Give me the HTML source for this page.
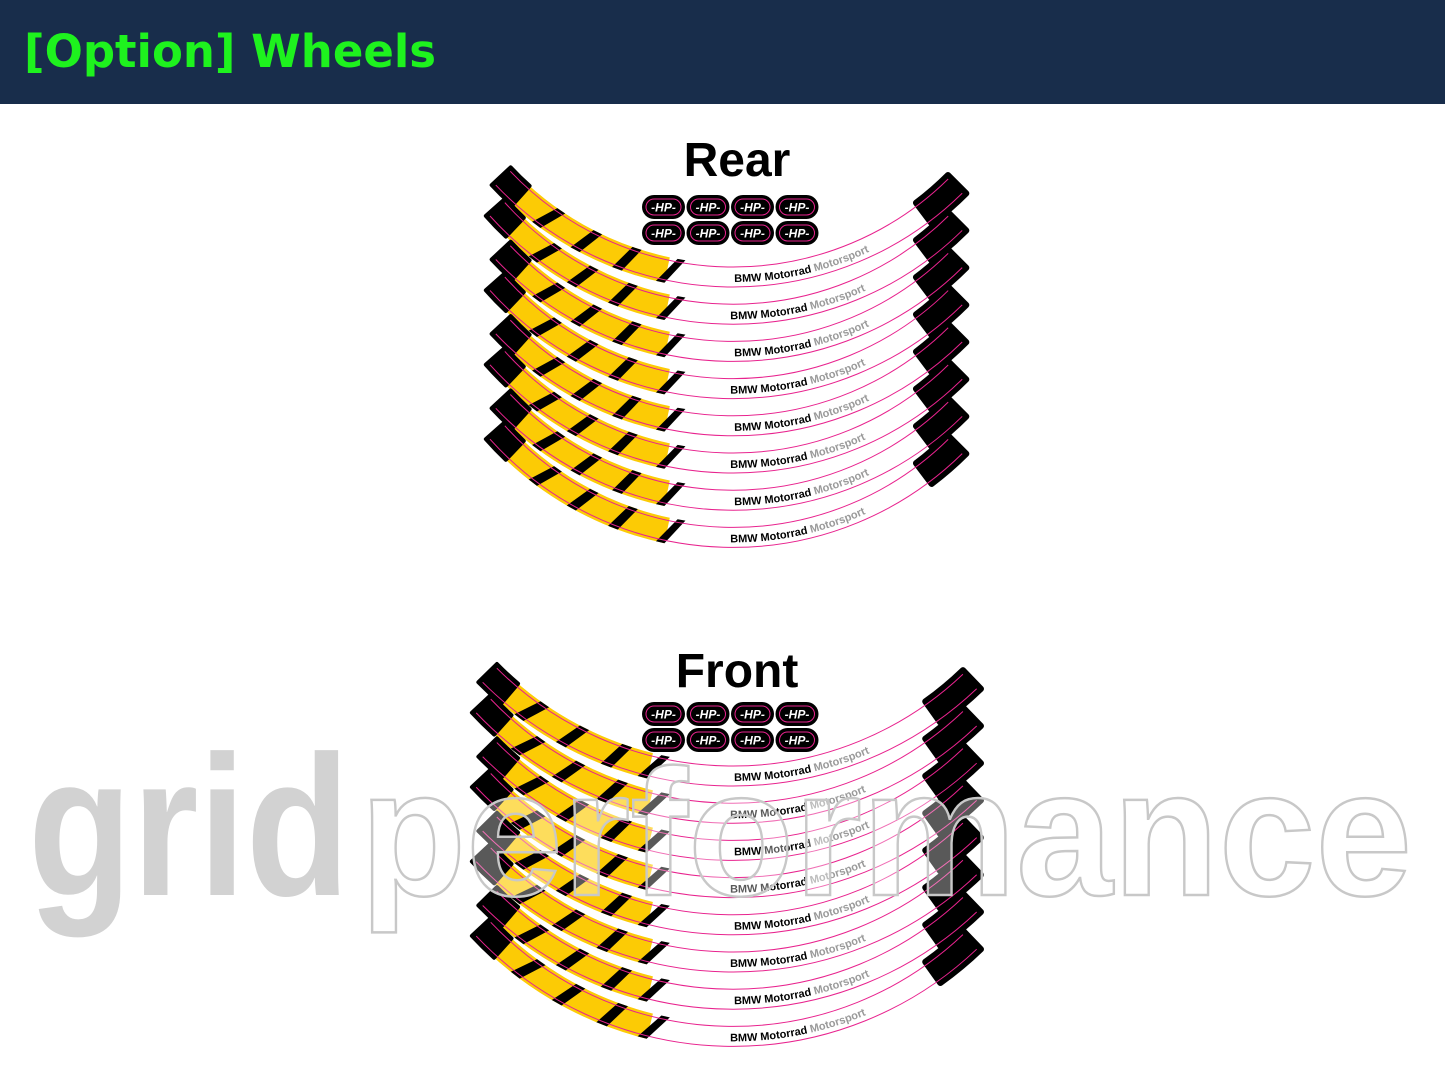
<!DOCTYPE html>
<html><head><meta charset="utf-8"><style>
html,body{margin:0;padding:0;background:#fff;width:1445px;height:1090px;overflow:hidden}
#hdr{position:absolute;left:0;top:0;width:1445px;height:104px;background:#182d4b}
#hdr span{position:absolute;left:24px;top:25px;font:bold 45px "DejaVu Sans","Liberation Sans",sans-serif;color:#1ef21e;letter-spacing:0px}
svg{position:absolute;left:0;top:0}
</style></head><body>
<div id="hdr"><span>[Option] Wheels</span></div>
<svg id="s" width="1445" height="1090" xmlns="http://www.w3.org/2000/svg">
<text x="737" y="176" text-anchor="middle" font-family="Liberation Sans,sans-serif" font-weight="bold" font-size="48">Rear</text>
<text x="737" y="687" text-anchor="middle" font-family="Liberation Sans,sans-serif" font-weight="bold" font-size="48">Front</text>
<g id="g"></g>
<text x="28" y="895" font-family="Liberation Sans,sans-serif" font-weight="bold" font-size="200" fill="#d2d2d2" textLength="322" lengthAdjust="spacingAndGlyphs">grid</text>
<text x="360" y="895" font-family="Liberation Sans,sans-serif" font-weight="bold" font-size="180" fill="rgba(255,255,255,0.35)" stroke="#c8c8c8" stroke-width="2.5" textLength="1052" lengthAdjust="spacingAndGlyphs">performance</text>
</svg>
<script>
var g=document.getElementById('g'),h='';
function P(cx,cy,r,t){return [cx+r*Math.sin(t),cy+r*Math.cos(t)];}
function arcBand(cx,cy,r1,r2,a,b){var p1=P(cx,cy,r2,a),p2=P(cx,cy,r2,b),p3=P(cx,cy,r1,b),p4=P(cx,cy,r1,a);
return 'M'+p1+' A'+r2+' '+r2+' 0 0 0 '+p2+' L'+p3+' A'+r1+' '+r1+' 0 0 1 '+p4+' Z';}
function arc(cx,cy,r,a,b){var p1=P(cx,cy,r,a),p2=P(cx,cy,r,b);return 'M'+p1+' A'+r+' '+r+' 0 0 0 '+p2;}
var D=Math.PI/180,id=0;
function wheel(cx,cy,R,a0,ay,ar0,a1){
 for(var i=0;i<8;i++){
  var c=cy+37.2*i,ri=R-26,ro=R;
  var l=a0-(i%2?1.5*D:0);
  h+='<path d="'+arcBand(cx,c,ri,ro,l,a1)+'" fill="#fff"/>';
  h+='<path d="'+arcBand(cx,c,ri,ro,l,ay)+'" fill="#fccb05"/>';
  h+='<path d="'+arcBand(cx,c,ri,ro,l,l+5*D)+'" fill="#000" stroke="#000" stroke-width="4" stroke-linejoin="round"/>';
  var st=[(l+ay)/2-8*D,(l+ay)/2,(l+ay)/2+8*D];
  for(var k=0;k<3;k++){var t=st[k];var q1=P(cx,c,ro,t),q2=P(cx,c,ro,t+1.8*D),q3=P(cx,c,ri,t+4*D),q4=P(cx,c,ri,t+2.2*D);
   h+='<path d="M'+q1+' L'+q2+' L'+q3+' L'+q4+'Z" fill="#000"/>';}
  h+='<path d="M'+P(cx,c,ro,ay-1.5*D)+' L'+P(cx,c,ro,ay)+' L'+P(cx,c,ri,ay+3*D)+' L'+P(cx,c,ri,ay+1.5*D)+'Z" fill="#000"/>';
  h+='<path d="'+arcBand(cx,c,ri,ro,ar0,a1)+'" fill="#000" stroke="#000" stroke-width="6" stroke-linejoin="round"/>';
  h+='<path d="'+arc(cx,c,ro-3,l+0.5*D,a1-0.5*D)+'" fill="none" stroke="#e8238e" stroke-width="1"/>';
  h+='<path d="'+arc(cx,c,ri+3,l+0.5*D,a1-0.5*D)+'" fill="none" stroke="#e8238e" stroke-width="1"/>';
  var tr=ro-8;id++;
  h+='<path id="tp'+id+'" d="'+arc(cx,c,tr,l,a1)+'" fill="none"/>';
  var off=tr*(-0.5*D-l)+(i%2?0:4);
  h+='<text font-family="Liberation Sans,sans-serif" font-weight="bold" font-size="11"><textPath href="#tp'+id+'" startOffset="'+off+'">BMW Motorrad <tspan fill="#9a9a9a">Motorsport</tspan></textPath></text>';
 }
}
wheel(733,-40,330,-47*D,-12*D,37*D,45*D);
wheel(733,432,357,-45.5*D,-14*D,35.5*D,44*D);
function badges(x0,y0){for(var r=0;r<2;r++)for(var c=0;c<4;c++){var x=x0+c*44.5,y=y0+r*26;
 h+='<rect x="'+x+'" y="'+y+'" width="43" height="24" rx="12" fill="#000"/>';
 h+='<rect x="'+(x+4)+'" y="'+(y+4)+'" width="35" height="16" rx="8" fill="none" stroke="#e8238e" stroke-width="1"/>';
 h+='<text x="'+(x+21.5)+'" y="'+(y+16.5)+'" text-anchor="middle" font-family="Liberation Sans,sans-serif" font-style="italic" font-weight="bold" font-size="12" fill="#fff">-HP-</text>';}}
badges(642,195);badges(642,702);
g.innerHTML=h;
</script>
</body></html>
